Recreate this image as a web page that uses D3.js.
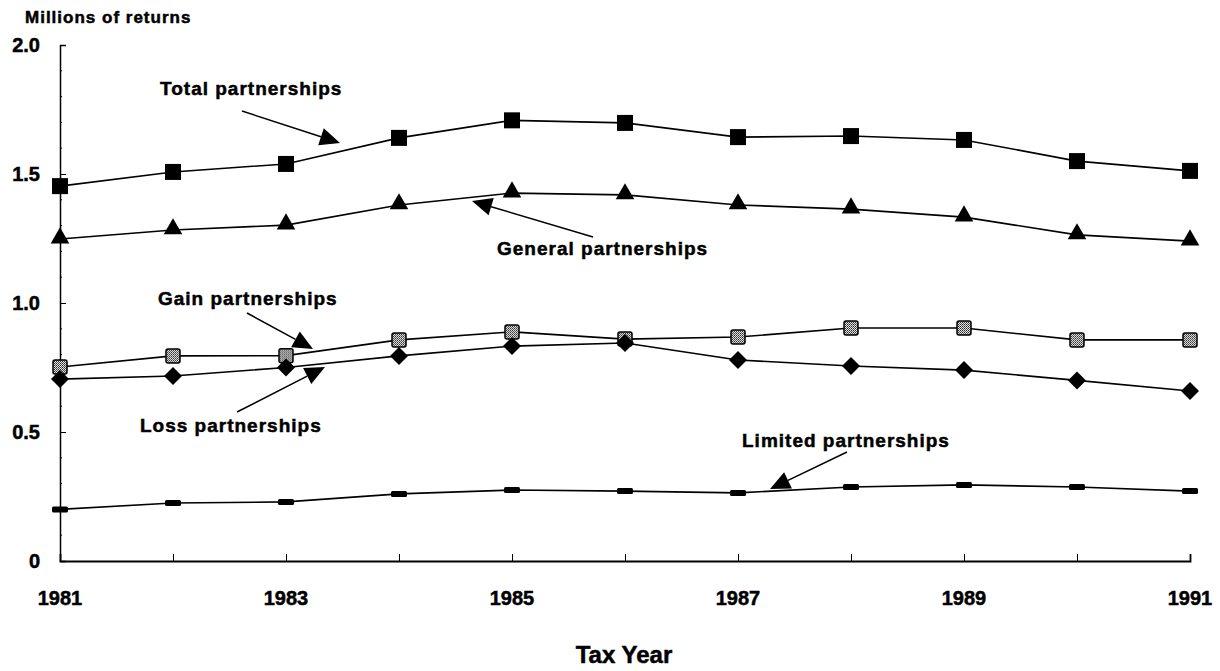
<!DOCTYPE html>
<html>
<head>
<meta charset="utf-8">
<script src="https://cdn.jsdelivr.net/npm/d3@7"></script>
<style>
  body { margin: 0; background: #fff; }
  svg text { font-family: "Liberation Sans", Arial, sans-serif; font-weight: bold; fill: #000;
             stroke: #000; stroke-width: 0.5px; }
</style>
</head>
<body>
<div id="chart"></div>
<script>
// data (millions of returns)
const years = [1981, 1982, 1983, 1984, 1985, 1986, 1987, 1988, 1989, 1990, 1991];
const total = [1.453, 1.508, 1.539, 1.640, 1.708, 1.698, 1.643, 1.647, 1.632, 1.550, 1.512];
const general = [1.248, 1.283, 1.302, 1.380, 1.426, 1.419, 1.380, 1.364, 1.333, 1.264, 1.240];
const gain = [0.752, 0.795, 0.796, 0.857, 0.888, 0.860, 0.868, 0.903, 0.903, 0.857, 0.857];
const loss = [0.705, 0.717, 0.750, 0.795, 0.833, 0.845, 0.779, 0.756, 0.740, 0.700, 0.659];
const limited = [0.200, 0.225, 0.229, 0.260, 0.275, 0.271, 0.264, 0.287, 0.295, 0.287, 0.271];
const yTicks = [0, 0.5, 1.0, 1.5, 2.0];
const xLabels = [1981, 1983, 1985, 1987, 1989, 1991];

const w = 1220, h = 671;

const svg = d3.select("#chart").append("svg")
  .attr("width", w).attr("height", h);

const x = d3.scaleLinear().domain([1981, 1991]).range([60, 1190]);
const y = d3.scaleLinear().domain([0, 2]).range([561, 45]);

// stipple pattern for gain markers
const defs = svg.append("defs");
const pat = defs.append("pattern").attr("id", "stip")
  .attr("width", 2).attr("height", 2).attr("patternUnits", "userSpaceOnUse");
pat.append("rect").attr("width", 2).attr("height", 2).attr("fill", "#e8e8e8");
pat.append("rect").attr("width", 1).attr("height", 1).attr("fill", "#222");
pat.append("rect").attr("x", 1).attr("y", 1).attr("width", 1).attr("height", 1).attr("fill", "#555");

// axes
const yAxis = d3.axisRight(y).tickValues(yTicks).tickSize(6).tickFormat("");
const gy = svg.append("g").attr("transform", "translate(60,0)").call(yAxis);
gy.select(".domain").attr("stroke-width", 1.5);

// minor ticks
svg.append("g").selectAll("line")
  .data(d3.range(0.1, 2.0, 0.1).filter(v => Math.abs(v * 2 - Math.round(v * 2)) > 0.01))
  .enter().append("line")
  .attr("x1", 60).attr("x2", 62)
  .attr("y1", d => y(d)).attr("y2", d => y(d))
  .attr("stroke", "#000").attr("stroke-width", 1);

svg.append("g").selectAll("text").data(yTicks).enter().append("text")
  .attr("x", 40).attr("y", d => y(d) + 7)
  .attr("text-anchor", "end").style("font-size", "20px")
  .text(d => d === 0 ? "0" : d.toFixed(1));

const xAxis = d3.axisTop(x).tickValues(years).tickSize(7).tickFormat("");
const gx = svg.append("g").attr("transform", "translate(0,561)").call(xAxis);
gx.select(".domain").attr("stroke-width", 1.8);

svg.append("g").selectAll("text").data(xLabels).enter().append("text")
  .attr("x", d => x(d)).attr("y", 605)
  .attr("text-anchor", "middle").style("font-size", "20px")
  .text(d => d);

svg.append("text").attr("x", 25).attr("y", 23)
  .style("font-size", "17px").style("letter-spacing", "1px").text("Millions of returns");

svg.append("text").attr("x", 624).attr("y", 663)
  .attr("text-anchor", "middle").style("font-size", "24px").text("Tax Year");

// series
const line = d3.line().x((d, i) => x(years[i])).y(d => y(d));
const series = [
  { vals: total, shape: "square" },
  { vals: general, shape: "triangle" },
  { vals: gain, shape: "stipple" },
  { vals: loss, shape: "diamond" },
  { vals: limited, shape: "dash" }
];

series.forEach(function (s) {
  svg.append("path").datum(s.vals)
    .attr("d", line).attr("fill", "none")
    .attr("stroke", "#000").attr("stroke-width", 1.6);
});

series.forEach(function (s) {
  const g = svg.append("g");
  const pts = g.selectAll("g").data(s.vals).enter().append("g")
    .attr("transform", (d, i) => "translate(" + x(years[i]) + "," + y(d) + ")");
  if (s.shape === "square") {
    pts.append("rect").attr("x", -8).attr("y", -8).attr("width", 16).attr("height", 16)
      .attr("fill", "#000");
  } else if (s.shape === "triangle") {
    pts.append("path").attr("d", d3.symbol().type(d3.symbolTriangle).size(150)())
      .attr("transform", "translate(0,-1)").attr("fill", "#000");
  } else if (s.shape === "stipple") {
    pts.append("rect").attr("x", -7).attr("y", -7).attr("width", 14).attr("height", 14)
      .attr("rx", 2).attr("fill", "url(#stip)").attr("stroke", "#000").attr("stroke-width", 1.5);
  } else if (s.shape === "diamond") {
    pts.append("path").attr("d", "M0,-9L9,0L0,9L-9,0Z").attr("fill", "#000");
  } else {
    pts.append("rect").attr("x", -8).attr("y", -3).attr("width", 16).attr("height", 6)
      .attr("rx", 1.5).attr("fill", "#000");
  }
});

// annotations
const notes = [
  { text: "Total partnerships", tx: 160, ty: 95, from: [242, 111], to: [340, 143] },
  { text: "General partnerships", tx: 497, ty: 255, from: [593, 237], to: [472, 201] },
  { text: "Gain partnerships", tx: 158, ty: 305, from: [247, 313], to: [313, 349] },
  { text: "Loss partnerships", tx: 140, ty: 432, from: [237, 412], to: [325, 367] },
  { text: "Limited partnerships", tx: 742, ty: 447, from: [847, 452], to: [770, 489] }
];

notes.forEach(function (n) {
  svg.append("text").attr("x", n.tx).attr("y", n.ty)
    .style("font-size", "19px").style("letter-spacing", "1px").text(n.text);
  const dx = n.to[0] - n.from[0], dy = n.to[1] - n.from[1];
  const len = Math.sqrt(dx * dx + dy * dy);
  const ux = dx / len, uy = dy / len;
  const hl = 20, hw = 9;
  const bx = n.to[0] - ux * hl, by = n.to[1] - uy * hl;
  svg.append("line")
    .attr("x1", n.from[0]).attr("y1", n.from[1]).attr("x2", bx).attr("y2", by)
    .attr("stroke", "#000").attr("stroke-width", 1.5);
  svg.append("path")
    .attr("d", "M" + n.to[0] + "," + n.to[1] +
      "L" + (bx - uy * hw) + "," + (by + ux * hw) +
      "L" + (bx + uy * hw) + "," + (by - ux * hw) + "Z")
    .attr("fill", "#000");
});
</script>
</body>
</html>
